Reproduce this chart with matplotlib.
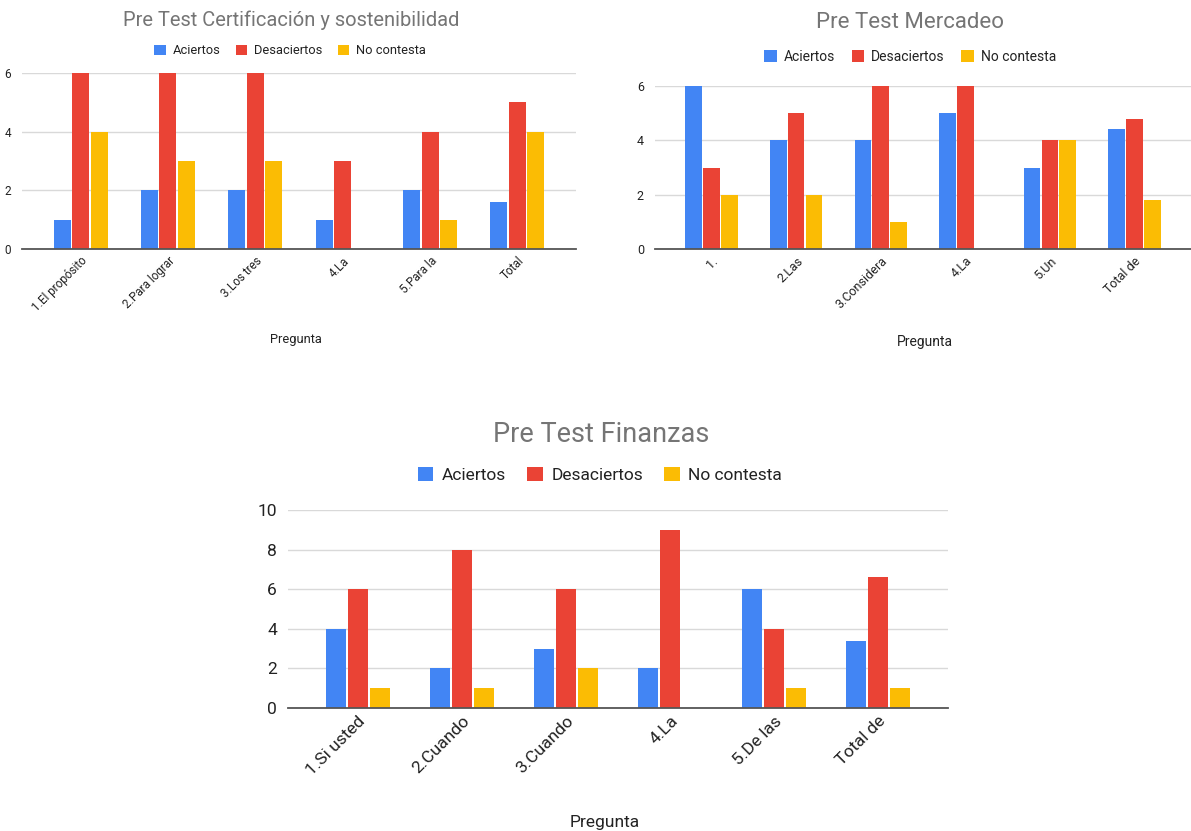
import matplotlib.pyplot as plt
import numpy as np

plt.rcParams['font.family'] = ['Roboto', 'DejaVu Sans']

series = ['Aciertos', 'Desaciertos', 'No contesta']
colores = ['#4285F4', '#EA4335', '#FBBC04']

# Certificación y sostenibilidad
cert_cats = ['1.El propósito', '2.Para lograr', '3.Los tres', '4.La', '5.Para la', 'Total']
cert_aciertos = [1, 2, 2, 1, 2, 1.6]
cert_desaciertos = [6, 6, 6, 3, 4, 5]
cert_nocontesta = [4, 3, 3, 0, 1, 4]

# Mercadeo
merc_cats = ['1.', '2.Las', '3.Considera', '4.La', '5.Un', 'Total de']
merc_aciertos = [6, 4, 4, 5, 3, 4.4]
merc_desaciertos = [3, 5, 6, 6, 4, 4.8]
merc_nocontesta = [2, 2, 1, 0, 4, 1.8]

# Finanzas
fin_cats = ['1.Si usted', '2.Cuando', '3.Cuando', '4.La', '5.De las', 'Total de']
fin_aciertos = [4, 2, 3, 2, 6, 3.4]
fin_desaciertos = [6, 8, 6, 9, 4, 6.6]
fin_nocontesta = [1, 1, 2, 0, 1, 1]

W, H = 1191, 831
fig = plt.figure(figsize=(W / 100, H / 100), dpi=100)


def px(x, y):
    return x / W, 1 - y / H


def grafico(rect, cats, datos, yticks, titulo, tpos, lpos, xlpos, fs_tick, fs_leg, fs_tit, fs_xl):
    l, t, r, b = rect
    x0, y0 = px(l, b)
    x1, y1 = px(r, t)
    ax = fig.add_axes([x0, y0, x1 - x0, y1 - y0])
    x = np.arange(len(cats))
    w = 0.195
    for i, (vals, c, s) in enumerate(zip(datos, colores, series)):
        ax.bar(x + (i - 1) * 0.212, vals, width=w, color=c, label=s, zorder=3)
    ax.set_xlim(-0.67, len(cats) - 0.33)
    ax.set_ylim(0, yticks[-1])
    ax.set_yticks(yticks)
    ax.set_xticks(x)
    ax.set_xticklabels(cats, rotation=45, ha='right', rotation_mode='anchor', fontsize=fs_tick, color='#222222')
    ax.tick_params(axis='y', labelsize=fs_tick, colors='#222222', length=0, pad=8)
    ax.tick_params(axis='x', length=0, pad=4)
    ax.grid(axis='y', color='#d9d9d9', linewidth=1, zorder=0)
    ax.set_axisbelow(True)
    for sp in ['top', 'right', 'left']:
        ax.spines[sp].set_visible(False)
    ax.spines['bottom'].set_color('#555555')
    ax.spines['bottom'].set_linewidth(1.3)
    ax.spines['bottom'].set_zorder(4)
    fig.text(*px(*tpos), titulo, ha='center', va='center', fontsize=fs_tit, color='#757575')
    fig.text(*px(*xlpos), 'Pregunta', ha='center', va='center', fontsize=fs_xl, color='#222222')
    ax.legend(loc='center', bbox_to_anchor=px(*lpos), bbox_transform=fig.transFigure, ncol=3,
              frameon=False, fontsize=fs_leg, handlelength=0.9, handleheight=0.9,
              columnspacing=1.2, handletextpad=0.5, labelcolor='#222222')
    return ax


grafico((22, 73, 576, 249), cert_cats, [cert_aciertos, cert_desaciertos, cert_nocontesta],
        [0, 2, 4, 6], 'Pre Test Certificación y sostenibilidad', (291, 20), (290, 51), (296, 340),
        8.5, 9.3, 14.5, 9.3)

grafico((655, 86, 1191, 249), merc_cats, [merc_aciertos, merc_desaciertos, merc_nocontesta],
        [0, 2, 4, 6], 'Pre Test Mercadeo', (910, 23), (910, 57), (925, 342),
        9, 10, 16, 10)

grafico((288, 510, 948, 708), fin_cats, [fin_aciertos, fin_desaciertos, fin_nocontesta],
        [0, 2, 4, 6, 8, 10], 'Pre Test Finanzas', (601, 435), (600, 475), (605, 822),
        12.5, 12.5, 19.5, 12.5)

fig.savefig('out.png', dpi=100)
